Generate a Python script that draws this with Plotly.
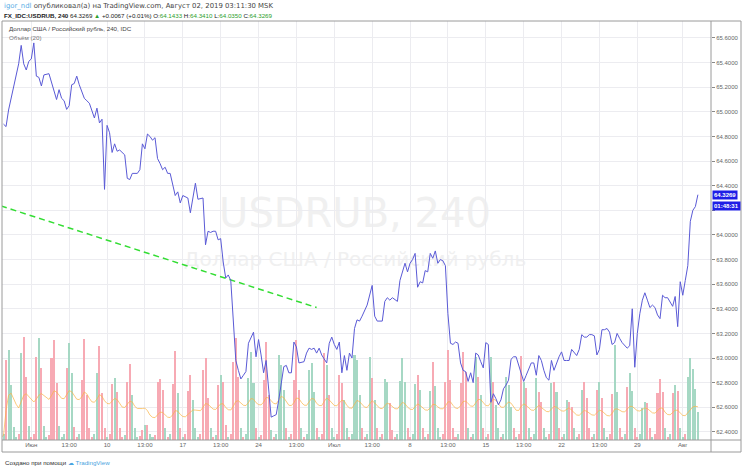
import plotly.graph_objects as go
import pandas as pd

# ---------------- data ----------------
# 4-hour bars, index 0 = 30 May 01:00 MSK ... 276 = 02 Aug 01:00 MSK
price_bar = [1, 2, 3, 4, 6, 7, 8, 9, 10, 11, 12, 13, 14, 15, 16, 17, 19, 20, 22, 23,
             24, 25, 26, 27, 28, 29, 30, 31, 33, 34, 35, 37, 38, 39, 40, 41, 42, 43, 44, 45,
             46, 47, 49, 50, 51, 52, 54, 55, 56, 57, 58, 59, 60, 61, 62, 63, 64, 65, 66, 67,
             69, 70, 71, 72, 74, 75, 77, 78, 80, 81, 82, 83, 84, 85, 86, 87, 88, 89, 90, 91,
             92, 93, 94, 95, 96, 97, 98, 99, 100, 101, 102, 103, 104, 105, 106, 107, 108, 109, 110, 111,
             112, 113, 114, 115, 116, 117, 118, 120, 121, 122, 123, 124, 125, 126, 127, 129, 130, 131, 132, 133,
             134, 135, 136, 137, 138, 139, 140, 141, 142, 143, 144, 145, 147, 148, 149, 151, 152, 153, 154, 155,
             157, 158, 160, 161, 162, 163, 164, 165, 166, 167, 168, 169, 170, 171, 172, 173, 174, 175, 176, 177,
             178, 179, 180, 181, 182, 183, 184, 185, 186, 187, 188, 189, 190, 191, 192, 193, 194, 195, 196, 197,
             198, 199, 200, 201, 202, 203, 204, 205, 207, 208, 209, 210, 211, 212, 213, 214, 215, 216, 217, 218,
             219, 220, 221, 222, 223, 224, 225, 226, 227, 228, 229, 230, 231, 232, 233, 234, 235, 236, 237, 238,
             239, 240, 241, 242, 243, 244, 245, 246, 248, 249, 250, 251, 252, 253, 254, 255, 256, 257, 258, 259,
             260, 261, 262, 263, 264, 265, 266, 267, 268, 269, 270, 271, 272, 273, 274, 275, 276]
price_close = [64.90, 64.88, 65.015, 65.11, 65.31, 65.39, 65.54, 65.39, 65.34, 65.41, 65.43, 65.56, 65.29, 65.28, 65.21, 65.30, 65.31, 65.245, 65.10, 65.18,
               65.11, 65.09, 65.02, 65.05, 65.22, 65.23, 65.29, 65.22, 65.11, 65.09, 65.07, 64.95, 65.03, 64.91, 64.94, 64.37, 64.89, 64.83, 64.67, 64.74,
               64.68, 64.69, 64.65, 64.46, 64.45, 64.50, 64.50, 64.53, 64.74, 64.70, 64.82, 64.80, 64.77, 64.79, 64.62, 64.58, 64.53, 64.55, 64.50, 64.50,
               64.32, 64.35, 64.26, 64.32, 64.30, 64.18, 64.42, 64.29, 64.30, 63.92, 64.03, 64.02, 64.03, 64.03, 63.96, 63.97, 63.78, 63.65, 63.675, 63.63,
               63.255, 62.98, 62.90, 62.83, 62.86, 62.89, 63.12, 63.17, 63.21, 63.01, 63.15, 63.025, 62.88, 62.98, 62.71, 62.52, 62.53, 62.54, 62.66, 62.81,
               62.93, 62.94, 62.88, 62.88, 63.13, 63.09, 62.96, 62.97, 63.04, 63.08, 63.07, 63.08, 63.04, 63.08, 63.025, 62.96, 63.12, 63.17, 63.11, 63.07,
               63.13, 62.88, 63.02, 62.90, 63.04, 63.00, 63.24, 63.31, 63.30, 63.34, 63.39, 63.43, 63.59, 63.34, 63.30, 63.30, 63.46, 63.49, 63.47, 63.49,
               63.46, 63.63, 63.77, 63.70, 63.77, 63.80, 63.85, 63.575, 63.62, 63.61, 63.71, 63.70, 63.85, 63.81, 63.87, 63.77, 63.80, 63.79, 63.75, 63.36,
               63.12, 63.11, 63.13, 63.12, 62.96, 62.90, 62.89, 62.81, 62.88, 62.80, 63.04, 63.025, 62.97, 62.92, 63.125, 63.11, 62.64, 62.71, 62.67, 62.62,
               62.66, 62.75, 62.78, 62.82, 62.99, 63.01, 63.01, 62.94, 62.81, 62.86, 62.91, 62.96, 62.96, 62.86, 63.02, 62.98, 62.90, 62.84, 62.82, 62.98,
               62.90, 62.96, 63.01, 63.05, 62.98, 62.98, 62.98, 63.07, 63.04, 63.02, 63.07, 63.19, 63.17, 63.17, 63.19, 63.19, 63.18, 63.025, 63.07, 63.23,
               63.23, 63.24, 63.21, 63.11, 63.125, 63.20, 63.16, 63.125, 63.08, 63.10, 63.40, 62.925, 63.20, 63.36, 63.47, 63.53, 63.47, 63.41, 63.43, 63.41,
               63.35, 63.32, 63.51, 63.49, 63.49, 63.46, 63.42, 63.50, 63.255, 63.62, 63.51, 63.63, 63.75, 64.11, 64.20, 64.23, 64.3269]

# volume per bar (6 bars a day), grouped by week; direction u = up bar, d = down bar
vol_w0 = [3, 6, 80, 90, 55, 13, 3, 6, 87, 103, 63, 14]
dir_w0 = "duduuu" "ududdu"
vol_w1 = [3, 6, 83, 102, 72, 14, 3, 5, 82, 100, 57, 14, 3, 6, 72, 97, 67, 13, 3, 6, 60, 101, 45, 12, 3, 6, 67, 94, 47, 12]
dir_w1 = "dddudu" "uddddu" "uuduud" "dudddd" "duuddd"
vol_w2 = [3, 6, 56, 62, 48, 12, 3, 5, 58, 76, 45, 12, 3, 4, 10, 15, 15, 6, 3, 5, 58, 61, 50, 12, 3, 6, 56, 89, 47, 12]
dir_w2 = "uddudd" "dudduu" "uddudu" "uddddu" "duddud"
vol_w3 = [3, 6, 49, 65, 40, 12, 3, 6, 70, 82, 42, 12, 3, 5, 55, 65, 58, 15, 3, 6, 78, 102, 63, 12, 3, 6, 62, 88, 57, 12]
dir_w3 = "uddduu" "uddddu" "dududd" "uddddu" "duuuud"
vol_w4 = [3, 5, 60, 98, 45, 10, 3, 6, 85, 75, 50, 12, 3, 6, 60, 100, 50, 12, 3, 6, 70, 77, 48, 12, 3, 6, 87, 75, 45, 12]
dir_w4 = "uddddu" "duuuud" "uddddu" "duuuud" "uddudu"
vol_w5 = [3, 6, 65, 57, 40, 12, 3, 6, 85, 80, 45, 12, 3, 6, 83, 62, 40, 12, 3, 6, 61, 58, 37, 10, 3, 6, 59, 82, 58, 12]
dir_w5 = "uddduu" "duuuud" "duudud" "uduudd" "duuuud"
vol_w6 = [3, 6, 56, 65, 50, 12, 3, 6, 49, 78, 54, 12, 3, 6, 58, 90, 60, 12, 3, 6, 57, 88, 68, 12, 3, 6, 83, 63, 45, 12]
dir_w6 = "duudud" "ududuu" "uddddd" "dudddu" "duudud"
vol_w7 = [3, 6, 83, 58, 35, 12, 3, 6, 63, 55, 33, 12, 3, 6, 84, 58, 52, 12, 3, 6, 62, 48, 38, 12, 3, 6, 57, 58, 48, 12]
dir_w7 = "ududuu" "duuuud" "uddudu" "duuddu" "ududud"
vol_w8 = [3, 6, 40, 38, 33, 12, 3, 6, 50, 58, 42, 12, 3, 6, 50, 58, 42, 12, 3, 6, 46, 95, 48, 12, 3, 6, 53, 67, 49, 12]
dir_w8 = "duuddu" "ududdd" "dududu" "udduud" "duduud"
vol_w9 = [3, 6, 32, 38, 37, 12, 3, 6, 47, 61, 48, 12, 3, 6, 47, 55, 49, 12, 3, 6, 63, 82, 71, 51, 28]
dir_w9 = "duuudd" "uddddu" "dududu" "uduuuu" "u"

# trend line anchors (bar index, price)
trend_bar = [0, 125]
trend_price = [64.235, 63.41]

# time-axis ticks (bar index of the labelled bar)
tick_bar = [12, 27, 42, 57, 72, 87, 102, 117, 132, 147, 162, 177, 192, 207, 222, 237, 252, 270]
tick_text = ["Июн", "13:00", "10", "13:00", "17", "13:00", "24", "13:00", "Июл", "13:00",
             "8", "13:00", "15", "13:00", "22", "13:00", "29", "Авг"]

# price-axis ticks (the 64.2000 label is hidden behind the last-price marker)
price_ticks = [62.4, 62.6, 62.8, 63.0, 63.2, 63.4, 63.6, 63.8, 64.0, 64.2, 64.4, 64.6, 64.8, 65.0, 65.2, 65.4, 65.6]
price_tick_text = ["62.4000", "62.6000", "62.8000", "63.0000", "63.2000", "63.4000", "63.6000", "63.8000",
                   "64.0000", "", "64.4000", "64.6000", "64.8000", "65.0000", "65.2000", "65.4000", "65.6000"]
last_price_label = "64.3269"
countdown_label = "01:48:31"

# ---------------- figure ----------------
volume = vol_w0 + vol_w1 + vol_w2 + vol_w3 + vol_w4 + vol_w5 + vol_w6 + vol_w7 + vol_w8 + vol_w9
direction = dir_w0 + dir_w1 + dir_w2 + dir_w3 + dir_w4 + dir_w5 + dir_w6 + dir_w7 + dir_w8 + dir_w9
bars = list(range(len(volume)))
UP = "rgb(166,216,196)"
DN = "rgb(247,170,180)"
vol_colors = [UP if c == "u" else DN for c in direction]
vol_ma = pd.Series(volume).rolling(20, min_periods=1).mean()

FONT = "DejaVu Sans"
AXF = "Liberation Sans"
W, H = 742, 470
L, R, T, B = 2, 31, 21, 30
pw, ph = W - L - R, H - T - B


def px(xp):
    return (xp - L) / pw


def py(yp):
    return (H - B - yp) / ph


fig = go.Figure()
fig.add_trace(go.Bar(x=bars, y=volume, marker=dict(color=vol_colors, line=dict(width=0)),
                     width=0.8, yaxis="y", hoverinfo="skip"))
fig.add_trace(go.Scatter(x=bars, y=vol_ma, mode="lines", yaxis="y",
                         line=dict(color="rgba(250,180,70,0.7)", width=1), hoverinfo="skip"))
fig.add_trace(go.Scatter(x=trend_bar, y=trend_price, mode="lines", yaxis="y2",
                         line=dict(color="#33dd33", width=1.5, dash="6px,4px")))
fig.add_trace(go.Scatter(x=price_bar, y=price_close, mode="lines", yaxis="y2",
                         line=dict(color="#5a5ad6", width=1)))

grid = "#ececf0"
fig.update_layout(
    width=W, height=H, autosize=False,
    margin=dict(l=L, r=R, t=T, b=B, pad=0),
    paper_bgcolor="white", plot_bgcolor="white",
    showlegend=False, bargap=0,
    font=dict(family=AXF, color="#555", size=7),
    xaxis=dict(range=[(L - 1) / 2.525, (W - R - 1) / 2.525], tickmode="array",
               tickvals=tick_bar, ticktext=tick_text, showgrid=True, gridcolor=grid,
               zeroline=False, showline=False, ticks="", automargin=False,
               tickfont=dict(size=6.1, color="#666", family=AXF)),
    yaxis=dict(range=[0, 419], visible=False, showgrid=False, zeroline=False, fixedrange=True),
    yaxis2=dict(overlaying="y", side="right", range=[62.334, 65.738], tickmode="array",
                tickvals=price_ticks, ticktext=price_tick_text,
                showgrid=True, gridcolor=grid, zeroline=False, showline=False,
                ticks="outside", ticklen=3, tickcolor="#888", automargin=False,
                tickfont=dict(size=6.0, color="#666", family=AXF)),
)

line_col = "#9a9a9a"
shapes = [
    dict(type="rect", xref="paper", yref="paper", x0=0, x1=px(741), y0=py(452), y1=1,
         line=dict(color=line_col, width=1)),
    dict(type="line", xref="paper", yref="paper", x0=1, x1=1, y0=py(452), y1=1,
         line=dict(color=line_col, width=1)),
    dict(type="line", xref="paper", yref="paper", x0=0, x1=px(741), y0=0, y1=0,
         line=dict(color=line_col, width=1)),
    # watermark
    dict(type="rect", xref="paper", yref="paper", x0=px(150), x1=px(560), y0=py(235), y1=py(185),
         line=dict(width=0), layer="below",
         label=dict(text="USDRUB, 240", font=dict(size=40, color="#f0f0f0", family=FONT),
                    textposition="middle center")),
    dict(type="rect", xref="paper", yref="paper", x0=px(150), x1=px(560), y0=py(270), y1=py(245),
         line=dict(width=0), layer="below",
         label=dict(text="Доллар США / Российский рубль", font=dict(size=20, color="#f0f0f0", family=FONT),
                    textposition="middle center")),
]
fig.update_layout(shapes=shapes)

G = "#2ca02c"
ann = [
    dict(x=px(2), y=py(6), xanchor="left", yanchor="middle",
         text='<span style="color:#5aaee6">igor_ndl</span> опубликовал(а) на TradingView.com, Август 02, 2019 03:11:30 MSK',
         font=dict(size=6.9, color="#444", family=FONT)),
    dict(x=px(2), y=py(15.5), xanchor="left", yanchor="middle",
         text=('<b>FX_IDC:USDRUB, 240</b> 64.3269 <span style="color:%s">▲</span> +0.0067 (+0.01%%) '
               'O:<span style="color:%s">64.1433</span> H:<span style="color:%s">64.3410</span> '
               'L:<span style="color:%s">64.0350</span> C:<span style="color:%s">64.3269</span>') % (G, G, G, G, G),
         font=dict(size=6.2, color="#222", family=AXF)),
    dict(x=px(7), y=py(29), xanchor="left", yanchor="middle",
         text="Доллар США / Российский рубль, 240, IDC", font=dict(size=6.2, color="#444", family=AXF)),
    dict(x=px(7), y=py(37), xanchor="left", yanchor="middle",
         text="Объём (20)", font=dict(size=6.2, color="#777", family=AXF)),
    dict(x=px(3), y=py(462), xanchor="left", yanchor="middle",
         text='Создано при помощи <span style="color:#4aa3e0">☁ TradingView</span>',
         font=dict(size=6.2, color="#333", family=AXF)),
    dict(x=px(712), y=py(194.5), xanchor="left", yanchor="middle", text="<b>%s</b>" % last_price_label,
         bgcolor="#1e1ee6", borderpad=1, font=dict(size=6.0, color="white", family=AXF)),
    dict(x=px(712), y=py(205.5), xanchor="left", yanchor="middle", text="<b>%s</b>" % countdown_label,
         bgcolor="#1e1ee6", borderpad=1, font=dict(size=6.0, color="white", family=AXF)),
]
for a in ann:
    a.update(xref="paper", yref="paper", showarrow=False)
fig.update_layout(annotations=ann)

fig.write_html("out.html", config={"displayModeBar": False},
               post_script="document.body.style.margin='0';document.body.style.padding='0';")
